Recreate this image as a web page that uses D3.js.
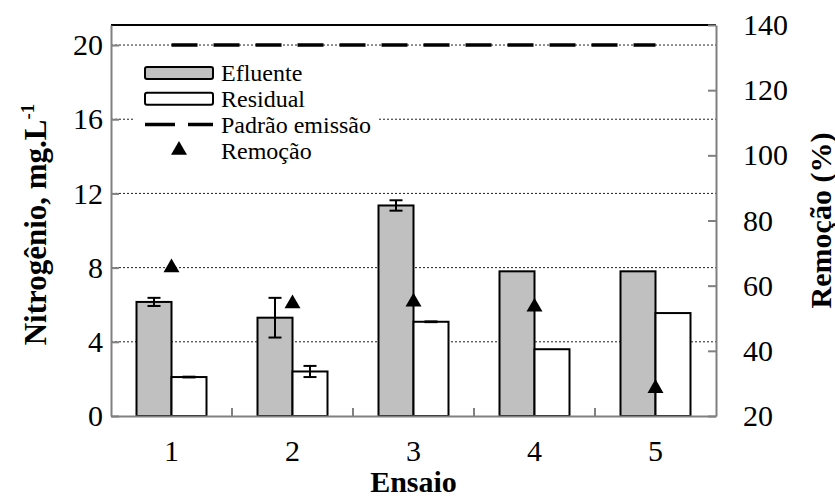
<!DOCTYPE html>
<html>
<head>
<meta charset="utf-8">
<script src="https://cdn.jsdelivr.net/npm/d3@7"></script>
<style>
  body { margin: 0; background: #fff; }
  text { font-family: "Liberation Serif", "Times New Roman", serif; fill: #000; }
</style>
</head>
<body>
<div class="chart"></div>
<script>
// data
var ensaios     = ["1", "2", "3", "4", "5"];
var efluente    = [6.15, 5.3, 11.35, 7.8, 7.8];
var efluenteErr = [0.22, 1.07, 0.28, 0, 0];
var residual    = [2.1, 2.4, 5.08, 3.6, 5.55];
var residualErr = [0.02, 0.3, 0.02, 0, 0];
var padrao      = [20, 20, 20, 20, 20];
var remocao     = [65.5, 54.5, 55, 53.5, 28.5];
var yTicks      = [0, 4, 8, 12, 16, 20];
var y2Ticks     = [20, 40, 60, 80, 100, 120, 140];

var W = 835, H = 497;
var margin = { top: 25, right: 119, bottom: 81, left: 111 },
    width = W - margin.left - margin.right,
    height = H - margin.top - margin.bottom;

var svg = d3.select(".chart").append("svg")
    .attr("width", W)
    .attr("height", H)
  .append("g")
    .attr("transform", "translate(" + margin.left + "," + margin.top + ")");

var x = d3.scaleBand().domain(ensaios).range([0, width]);
var y = d3.scaleLinear().domain([0, 21.08]).range([height, 0]);
var y2 = d3.scaleLinear().domain([20, 140]).range([height, 0]);

var barW = 35;

// gridlines
svg.append("g").selectAll("line")
    .data(yTicks.slice(1))
    .enter().append("line")
    .attr("x1", 0).attr("x2", width)
    .attr("y1", function(d) { return y(d); })
    .attr("y2", function(d) { return y(d); })
    .attr("stroke", "#222")
    .attr("stroke-width", 1)
    .attr("stroke-dasharray", "2,2");

// limit line
var line = d3.line()
    .x(function(d, i) { return x(ensaios[i]) + x.bandwidth() / 2; })
    .y(function(d) { return y(d); });

svg.append("path")
    .attr("d", line(padrao))
    .attr("fill", "none")
    .attr("stroke", "#000")
    .attr("stroke-width", 3.5)
    .attr("stroke-dasharray", "26,16");

// bars
var groups = svg.selectAll(".ens")
    .data(ensaios)
    .enter().append("g")
    .attr("class", "ens")
    .attr("transform", function(d) { return "translate(" + (x(d) + x.bandwidth() / 2) + ",0)"; });

groups.append("rect")
    .attr("x", -barW)
    .attr("width", barW)
    .attr("y", function(d, i) { return y(efluente[i]); })
    .attr("height", function(d, i) { return height - y(efluente[i]); })
    .attr("fill", "#c0c0c0")
    .attr("stroke", "#000")
    .attr("stroke-width", 2);

groups.append("rect")
    .attr("x", 0)
    .attr("width", barW)
    .attr("y", function(d, i) { return y(residual[i]); })
    .attr("height", function(d, i) { return height - y(residual[i]); })
    .attr("fill", "#fff")
    .attr("stroke", "#000")
    .attr("stroke-width", 2);

// error bars
function errBar(vals, errs, cx) {
  groups.each(function(d, i) {
    if (!errs[i]) return;
    var g = d3.select(this);
    var lo = y(vals[i] - errs[i]), hi = y(vals[i] + errs[i]);
    g.append("line").attr("x1", cx).attr("x2", cx).attr("y1", lo).attr("y2", hi)
      .attr("stroke", "#000").attr("stroke-width", 2);
    [lo, hi].forEach(function(v) {
      g.append("line").attr("x1", cx - 6.5).attr("x2", cx + 6.5).attr("y1", v).attr("y2", v)
        .attr("stroke", "#000").attr("stroke-width", 2);
    });
  });
}
errBar(efluente, efluenteErr, -barW / 2);
errBar(residual, residualErr, barW / 2);

// removal markers
var tri = d3.symbol().type(d3.symbolTriangle).size(110);
svg.append("g").selectAll("path")
    .data(remocao)
    .enter().append("path")
    .attr("d", tri)
    .attr("fill", "#000")
    .attr("transform", function(d, i) {
      return "translate(" + (x(ensaios[i]) + x.bandwidth() / 2) + "," + y2(d) + ")";
    });

// frame / axes
svg.append("line").attr("x1", 0).attr("x2", width).attr("y1", 0).attr("y2", 0)
    .attr("stroke", "#000").attr("stroke-width", 2);

var yAxis = d3.axisLeft(y).tickValues(yTicks).tickSizeInner(-8).tickSizeOuter(0).tickPadding(8);
var y2Axis = d3.axisRight(y2).tickValues(y2Ticks).tickSizeInner(-8).tickSizeOuter(0).tickPadding(27);
var xAxis = d3.axisBottom(x).tickSize(0).tickPadding(24);

var gy = svg.append("g").call(yAxis);
var gy2 = svg.append("g").attr("transform", "translate(" + width + ",0)").call(y2Axis);
var gx = svg.append("g").attr("transform", "translate(0," + height + ")").call(xAxis);

// category separators on the x axis
gx.selectAll(".sep")
    .data(ensaios.slice(1))
    .enter().append("line")
    .attr("x1", function(d) { return x(d); })
    .attr("x2", function(d) { return x(d); })
    .attr("y1", 0).attr("y2", -8)
    .attr("stroke", "#808080").attr("stroke-width", 2);

[gy, gy2, gx].forEach(function(g) {
  g.attr("font-family", "'Liberation Serif', 'Times New Roman', serif").attr("font-size", 30);
  g.select(".domain").attr("stroke", "#808080").attr("stroke-width", 2);
  g.selectAll(".tick line").attr("stroke", "#808080").attr("stroke-width", 2);
  g.selectAll(".tick text").attr("fill", "#000");
});
gy2.selectAll(".tick text").attr("x", 27);

// axis titles
svg.append("text")
    .attr("transform", "translate(" + (-76) + "," + (height / 2 + 4) + ") rotate(-90)")
    .attr("text-anchor", "middle")
    .attr("dy", "0.35em")
    .style("font-size", "31px")
    .style("font-weight", "bold")
    .text("Nitrogênio, mg.L")
  .append("tspan")
    .attr("dy", "-0.6em")
    .style("font-size", "19px")
    .text("-1");

svg.append("text")
    .attr("transform", "translate(" + (width + 104) + "," + (height / 2) + ") rotate(-90)")
    .attr("text-anchor", "middle")
    .attr("dy", "0.35em")
    .style("font-size", "30px")
    .style("font-weight", "bold")
    .text("Remoção (%)");

svg.append("text")
    .attr("x", width / 2)
    .attr("y", height + 76)
    .attr("text-anchor", "middle")
    .style("font-size", "30px")
    .style("font-weight", "bold")
    .text("Ensaio");

// legend
var lg = svg.append("g").attr("transform", "translate(" + (145 - margin.left) + "," + (73 - margin.top) + ")");
lg.append("rect").attr("x", -12).attr("y", -18).attr("width", 244).attr("height", 110).attr("fill", "#fff");

var legendItems = ["Efluente", "Residual", "Padrão emissão", "Remoção"];
var rowH = 25.7;

lg.append("rect").attr("x", 0).attr("y", -6).attr("width", 68).attr("height", 12).attr("rx", 2)
    .attr("fill", "#c0c0c0").attr("stroke", "#000").attr("stroke-width", 2);
lg.append("rect").attr("x", 0).attr("y", rowH - 6).attr("width", 68).attr("height", 12).attr("rx", 2)
    .attr("fill", "#fff").attr("stroke", "#000").attr("stroke-width", 2);
lg.append("line").attr("x1", 0).attr("x2", 68).attr("y1", rowH * 2).attr("y2", rowH * 2)
    .attr("stroke", "#000").attr("stroke-width", 3.5).attr("stroke-dasharray", "30,13");
lg.append("path").attr("d", tri).attr("fill", "#000")
    .attr("transform", "translate(34," + (rowH * 3) + ")");

lg.selectAll(".lt")
    .data(legendItems)
    .enter().append("text")
    .attr("class", "lt")
    .attr("x", 76)
    .attr("y", function(d, i) { return i * rowH; })
    .attr("dy", "0.35em")
    .style("font-size", "24px")
    .text(function(d) { return d; });
</script>
</body>
</html>
